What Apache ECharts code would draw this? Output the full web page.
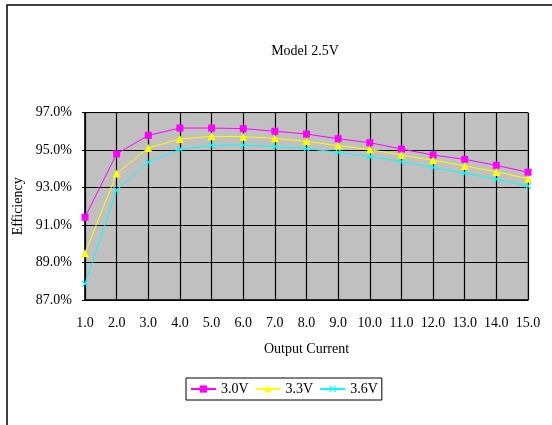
<!DOCTYPE html>
<html>
<head>
<meta charset="utf-8">
<script src="https://cdn.jsdelivr.net/npm/echarts@6/dist/echarts.min.js"></script>
<style>
html,body{margin:0;padding:0;background:#fff;}
#chart{width:552px;height:425px;}
</style>
</head>
<body>
<div id="chart"></div>
<script>
const categories = ['1.0','2.0','3.0','4.0','5.0','6.0','7.0','8.0','9.0','10.0','11.0','12.0','13.0','14.0','15.0'];
const series30 = [91.42, 94.80, 95.79, 96.18, 96.18, 96.15, 96.01, 95.86, 95.61, 95.40, 95.06, 94.74, 94.51, 94.19, 93.82];
const series33 = [89.50, 93.75, 95.12, 95.60, 95.74, 95.72, 95.63, 95.47, 95.24, 95.03, 94.74, 94.46, 94.16, 93.84, 93.48];
const series36 = [87.87, 92.86, 94.35, 95.05, 95.26, 95.26, 95.19, 95.08, 94.89, 94.66, 94.39, 94.07, 93.77, 93.45, 93.09];
const seriesNames = ['3.0V', '3.3V', '3.6V'];
const yTicks = {min: 87, max: 97, interval: 2};

const FONT = '"Liberation Serif", "Times New Roman", serif';
const crossPath = 'path://M0,1L1,0L5,4L9,0L10,1L6,5L10,9L9,10L5,6L1,10L0,9L4,5Z';

const chart = echarts.init(document.getElementById('chart'), null, {renderer: 'canvas'});
chart.setOption({
  backgroundColor: '#ffffff',
  animation: false,
  textStyle: {fontFamily: FONT, color: '#000'},
  graphic: [{
    type: 'rect',
    shape: {x: 7, y: 5, width: 600, height: 500},
    style: {fill: 'none', stroke: '#000', lineWidth: 1.5},
    silent: true
  }],
  title: {
    text: 'Model 2.5V',
    left: 300,
    textAlign: 'center',
    top: 39,
    textStyle: {fontFamily: FONT, fontSize: 14, fontWeight: 'normal', color: '#000'}
  },
  legend: {
    data: seriesNames,
    left: 186,
    top: 378,
    padding: [4, 4],
    itemGap: 6,
    itemWidth: 25,
    itemHeight: 9,
    borderColor: '#000',
    borderWidth: 1,
    backgroundColor: '#fff',
    textStyle: {fontFamily: FONT, fontSize: 14, color: '#000', padding: [0, 0, 0, 0]}
  },
  grid: {
    left: 85, right: 24, top: 112.7, bottom: 125,
    show: true,
    backgroundColor: '#C0C0C0',
    borderColor: '#808080',
    borderWidth: 1
  },
  xAxis: {
    type: 'category',
    data: categories,
    boundaryGap: false,
    name: 'Output Current',
    nameLocation: 'middle',
    nameGap: 42,
    nameTextStyle: {fontFamily: FONT, fontSize: 14, color: '#000'},
    axisLine: {lineStyle: {color: '#000', width: 1.5}},
    axisTick: {show: true, inside: true, interval: 0, length: 3, lineStyle: {color: '#000'}},
    axisLabel: {fontFamily: FONT, fontSize: 14, color: '#000', margin: 16, interval: 0},
    splitLine: {show: true, interval: 0, lineStyle: {color: '#000', width: 1.2}}
  },
  yAxis: {
    type: 'value',
    min: yTicks.min,
    max: yTicks.max,
    interval: yTicks.interval,
    name: 'Efficiency',
    nameLocation: 'middle',
    nameGap: 55,
    nameTextStyle: {fontFamily: FONT, fontSize: 14, color: '#000'},
    axisLine: {show: true, lineStyle: {color: '#000', width: 1.5}},
    axisTick: {show: true, length: 3, lineStyle: {color: '#000'}},
    axisLabel: {fontFamily: FONT, fontSize: 14, color: '#000', margin: 13,
      formatter: v => v.toFixed(1) + '%'},
    splitLine: {show: true, lineStyle: {color: '#000', width: 1.2}}
  },
  series: [
    {
      name: seriesNames[0], type: 'line', data: series30,
      symbol: 'rect', symbolSize: 7,
      lineStyle: {color: '#FF00FF', width: 1},
      itemStyle: {color: '#FF00FF'}
    },
    {
      name: seriesNames[1], type: 'line', data: series33,
      symbol: 'triangle', symbolSize: 8,
      lineStyle: {color: '#FFFF00', width: 1},
      itemStyle: {color: '#FFFF00'}
    },
    {
      name: seriesNames[2], type: 'line', data: series36,
      symbol: crossPath, symbolSize: 7,
      lineStyle: {color: '#00FFFF', width: 1},
      itemStyle: {color: '#00FFFF'}
    }
  ]
});
</script>
</body>
</html>
